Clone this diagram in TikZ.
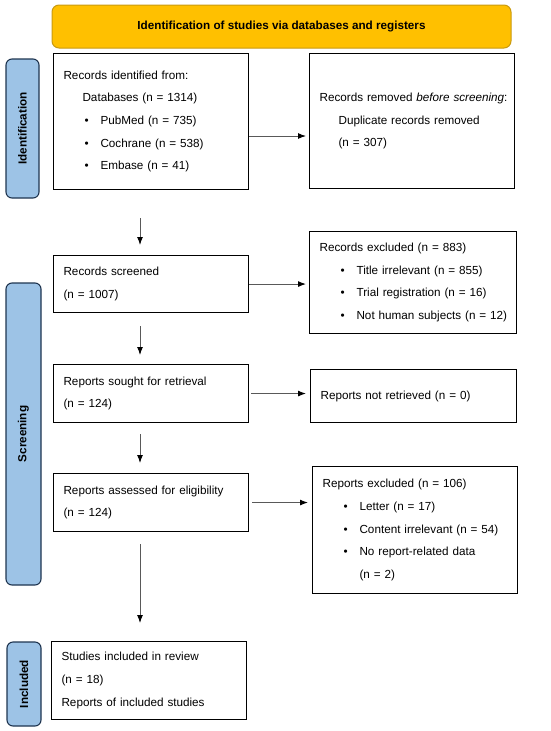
\documentclass[tikz,border=0pt]{standalone}
\usepackage{fontspec}
\setmainfont{Liberation Sans}
\usetikzlibrary{arrows.meta}

\definecolor{headfill}{HTML}{FFC000}
\definecolor{headline}{HTML}{C99A10}
\definecolor{phasefill}{HTML}{9DC3E6}
\definecolor{phaseline}{HTML}{1F3550}

\newcommand{\indln}[1]{\hspace*{19pt}\mbox{#1}}
\newcommand{\bulln}[1]{\hspace*{21pt}\makebox[16pt][l]{\textbullet}\mbox{#1}}

\begin{document}
\begin{tikzpicture}[
  x=1pt,y=-1pt,
  >=Latex,
  font=\fontsize{11.7}{22.6}\selectfont,
  box/.style={draw,line width=1.1pt,anchor=north west,align=left,
    inner xsep=10pt,inner ysep=0pt},
  phase/.style={draw=phaseline,line width=1.1pt,fill=phasefill,
    rounded corners=6pt,rotate=90,font=\fontsize{11.7}{14}\selectfont\bfseries,
    inner sep=0pt},
  flow/.style={->,draw=black!65,line width=1pt,
    arrows={-Latex[length=8pt,width=6pt,color=black]}}
]
  \useasboundingbox (0,0) rectangle (550,731);

  % header
  \node[draw=headline,line width=1pt,fill=headfill,rounded corners=7pt,
    minimum width=459pt,minimum height=43pt,inner sep=0pt,
    font=\fontsize{11.7}{14}\selectfont\bfseries]
    (head) at (281.5,26.5) {Identification of studies via databases and registers};

  % phases
  \node[phase,minimum width=139pt,minimum height=33pt] (idlab) at (22.5,128.5) {Identification};
  \node[phase,minimum width=302pt,minimum height=35pt] (scrlab) at (23.5,434) {Screening};
  \node[phase,minimum width=84pt,minimum height=34pt] (inclab) at (24,684) {Included};

  % left column
  \node[box,text width=175pt,minimum height=136pt] (ident) at (53,53)
    {Records identified from:\\ \indln{Databases (n = 1314)}\\
     \bulln{PubMed (n = 735)}\\ \bulln{Cochrane (n = 538)}\\ \bulln{Embase (n = 41)}};
  \node[box,text width=175pt,minimum height=57pt] (screened) at (53,255)
    {Records screened\\(n = 1007)};
  \node[box,text width=175pt,minimum height=58pt] (sought) at (53,364)
    {Reports sought for retrieval\\(n = 124)};
  \node[box,text width=175pt,minimum height=58pt] (elig) at (53,473)
    {Reports assessed for eligibility\\(n = 124)};
  \node[box,text width=175pt,minimum height=78pt] (incl) at (51,641)
    {Studies included in review\\(n = 18)\\Reports of included studies};

  % right column
  \node[box,text width=185pt,minimum height=135pt] (removed) at (309,53)
    {\mbox{Records removed \textit{before screening}:}\\
     \indln{Duplicate records removed}\\ \indln{(n = 307)}};
  \node[box,text width=187pt,minimum height=102pt] (excl) at (309,231)
    {Records excluded (n = 883)\\ \bulln{Title irrelevant (n = 855)}\\
     \bulln{Trial registration (n = 16)}\\ \bulln{Not human subjects (n = 12)}};
  \node[box,text width=186pt,minimum height=53pt] (notret) at (310,369)
    {Reports not retrieved (n = 0)};
  \node[box,text width=185pt,minimum height=127pt] (exclrep) at (312,466)
    {Reports excluded (n = 106)\\ \bulln{Letter (n = 17)}\\
     \bulln{Content irrelevant (n = 54)}\\ \bulln{No report-related data}\\
     \hspace*{37pt}(n = 2)};

  % connectors
  \coordinate (col) at (140,0);
  \draw[flow,shorten <=28pt,shorten >=10pt] (ident.south -| col) -- (screened.north -| col);
  \draw[flow,shorten <=13pt,shorten >=9pt] (screened.south -| col) -- (sought.north -| col);
  \draw[flow,shorten <=11pt,shorten >=10pt] (sought.south -| col) -- (elig.north -| col);
  \draw[flow,shorten <=12pt,shorten >=18pt] (elig.south -| col) -- (incl.north -| col);

  \coordinate (dup) at (0,136);
  \draw[flow,shorten >=3pt] (ident.east |- dup) -- (removed.west |- dup);
  \draw[flow,shorten >=3pt] (screened.east) -- (excl.west |- screened.east);
  \draw[flow,shorten <=2pt,shorten >=4pt] (sought.east) -- (notret.west |- sought.east);
  \draw[flow,shorten <=3pt,shorten >=4pt] (elig.east) -- (exclrep.west |- elig.east);
\end{tikzpicture}
\end{document}
